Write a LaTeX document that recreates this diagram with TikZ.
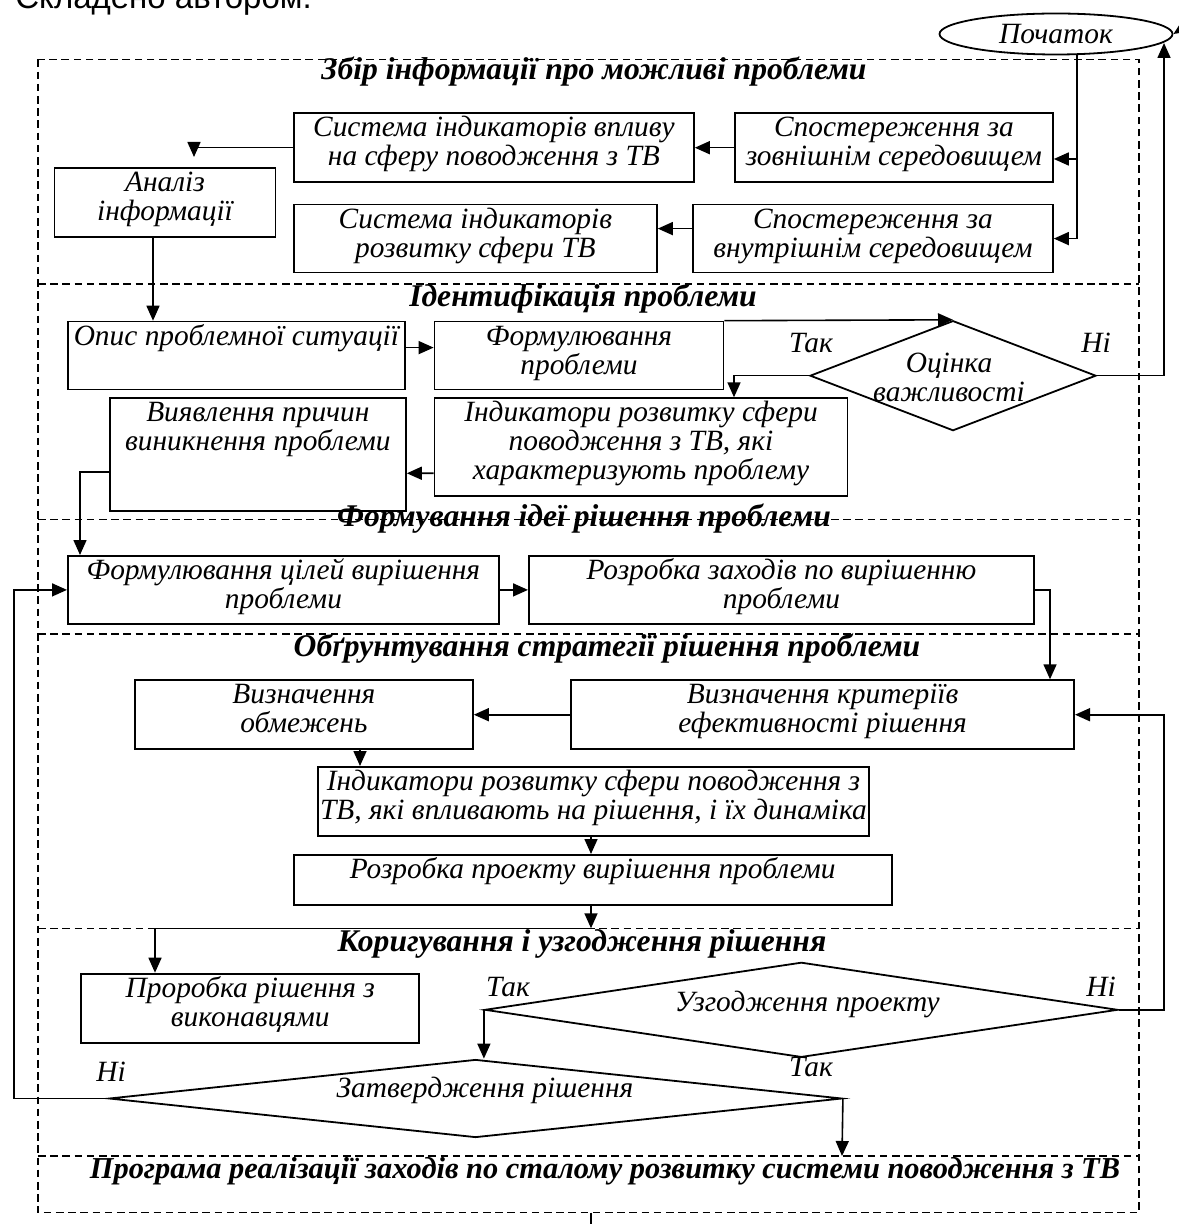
\documentclass[tikz,border=0pt]{standalone}
\usepackage{fontspec}
\setmainfont{Liberation Serif}
\newfontfamily\notefont{Liberation Sans}
\usepackage{tikz}
\usetikzlibrary{shapes.geometric,arrows.meta,calc}

\newlength{\pxu}
\setlength{\pxu}{0.5pt}
\newcommand{\fl}{\rule{0pt}{24\pxu}}

\tikzset{
  box/.style={draw, line width=0.9pt, inner sep=0pt, anchor=north west},
  boxtext/.style={anchor=north, align=center, inner sep=0pt},
  dia/.style={draw, diamond, line width=0.9pt, inner sep=0pt},
  head/.style={anchor=base, inner sep=0pt, font=\fontsize{15.8pt}{16pt}\selectfont\bfseries\itshape},
  yesno/.style={anchor=base, inner sep=0pt},
  sect/.style={dash pattern=on 3.8pt off 2.3pt, line width=0.6pt},
  arr/.style={-{Triangle[length=7.5pt,width=6.5pt]}, line width=0.8pt},
  link/.style={line width=0.8pt}
}

\begin{document}
\begin{tikzpicture}[x=0.5pt, y=-0.5pt, font=\fontsize{14.7pt}{14.5pt}\selectfont\itshape]
\useasboundingbox (0,0) rectangle (1178,1224);

\node[anchor=base west, inner sep=0pt, font=\notefont\fontsize{16.5pt}{18pt}\selectfont] (note) at (15,9) {Складено автором.};

% sections
\draw[sect] (38,59.5) rectangle (1139,1212.7);
\draw[sect] (38,284) -- (1139,284);
\draw[sect] (38,519.3) -- (1139,519.3);
\draw[sect] (38,634) -- (1139,634);
\draw[sect] (38,928.3) -- (1139,928.3);
\draw[sect] (38,1156) -- (1139,1156);

\node[head] (h1) at (594,80) {Збір інформації про можливі проблеми};
\node[head] (h2) at (583,306.7) {Ідентифікація проблеми};
\node[head] (h3) at (584,526.7) {Формування ідеї рішення проблеми};
\node[head] (h4) at (607,656.7) {Обґрунтування стратегії рішення проблеми};
\node[head] (h5) at (582,951.7) {Коригування і узгодження рішення};
\node[head, font=\fontsize{15.2pt}{16pt}\selectfont\bfseries\itshape] (h6) at (605,1178.3) {Програма реалізації заходів по сталому розвитку системи поводження з ТВ};

% section 1
\node[draw, ellipse, line width=0.9pt, inner sep=0pt, minimum width=233\pxu, minimum height=41\pxu] (start) at (1056,34) {Початок};
\node[box, minimum width=400\pxu, minimum height=69\pxu, label={[boxtext]north:{\fl Система індикаторів впливу\\на сферу поводження з ТВ}}] (sysout) at (293,112.3) {};
\node[box, minimum width=318\pxu, minimum height=69\pxu, label={[boxtext]north:{\fl Спостереження за\\зовнішнім середовищем}}] (spout) at (734,112.3) {};
\node[box, minimum width=221\pxu, minimum height=69\pxu, label={[boxtext]north:{\fl Аналіз\\інформації}}] (anal) at (53.6,167.3) {};
\node[box, minimum width=363\pxu, minimum height=68\pxu, label={[boxtext]north:{\fl Система індикаторів\\розвитку сфери ТВ}}] (sysin) at (293,203.7) {};
\node[box, minimum width=360\pxu, minimum height=68\pxu, label={[boxtext]north:{\fl Спостереження за\\внутрішнім середовищем}}] (spin) at (692,203.7) {};

% section 2
\node[box, minimum width=337\pxu, minimum height=68\pxu, label={[boxtext]north:{\fl Опис проблемної ситуації}}] (opys) at (67,320.7) {};
\node[box, minimum width=289\pxu, minimum height=68\pxu, label={[boxtext]north:{\fl Формулювання\\проблеми}}] (form) at (433.6,320.7) {};
\node[dia, minimum width=286\pxu, minimum height=110\pxu, label={[xshift=-4\pxu, yshift=-2\pxu, align=center]center:{Оцінка\\важливості}}] (ocin) at (953,375.7) {};
\node[box, minimum width=296\pxu, minimum height=113\pxu, label={[boxtext]north:{\fl Виявлення причин\\виникнення проблеми}}] (vyav) at (109,397.3) {};
\node[box, minimum width=413\pxu, minimum height=98\pxu, label={[boxtext]north:{\fl Індикатори розвитку сфери\\поводження з ТВ, які\\характеризують проблему}}] (ind1) at (433.6,397.3) {};
\node[yesno] (yes1) at (811,352.7) {Так};
\node[yesno] (no1) at (1096,352.7) {Ні};

% section 3
\node[box, minimum width=431\pxu, minimum height=68\pxu, label={[boxtext]north:{\fl Формулювання цілей вирішення\\проблеми}}] (cil) at (67,555) {};
\node[box, minimum width=505\pxu, minimum height=68\pxu, label={[boxtext]north:{\fl Розробка заходів по вирішенню\\проблеми}}] (rozr) at (528,555) {};

% section 4
\node[box, minimum width=338\pxu, minimum height=69\pxu, label={[boxtext]north:{\fl Визначення\\обмежень}}] (obm) at (134,679.3) {};
\node[box, minimum width=503\pxu, minimum height=69\pxu, label={[boxtext]north:{\fl Визначення критеріїв\\ефективності рішення}}] (kryt) at (570.2,679.3) {};
\node[box, minimum width=551\pxu, minimum height=69\pxu, label={[boxtext]north:{\fl Індикатори розвитку сфери поводження з\\ТВ, які впливають на рішення, і їх динаміка}}] (ind2) at (317,766) {};
\node[box, minimum width=598\pxu, minimum height=50\pxu, label={[boxtext]north:{\fl Розробка проекту вирішення проблеми}}] (proj) at (292.8,854) {};

% section 5
\node[box, minimum width=338\pxu, minimum height=69\pxu, label={[boxtext]north:{\fl Проробка рішення з\\виконавцями}}] (prorob) at (80.4,972.7) {};
\node[dia, minimum width=633\pxu, minimum height=95\pxu, label={[xshift=6\pxu, yshift=5\pxu]center:{Узгодження проекту}}] (uzg) at (801.3,1009.8) {};
\node[dia, minimum width=733\pxu, minimum height=78\pxu, label={[xshift=9.5\pxu, yshift=8\pxu]center:{Затвердження рішення}}] (zatv) at (475.5,1098.5) {};
\node[yesno] (yes2) at (508,996.7) {Так};
\node[yesno] (no2) at (1101,996) {Ні};
\node[yesno] (yes3) at (811,1076) {Так};
\node[yesno] (no3) at (111,1081.7) {Ні};

% connectors
\coordinate (fork) at ($(start.south)+(21,0)$);
\coordinate (analin) at (194,157);
\coordinate (backtop) at (1164,43);
\coordinate (backend) at (1192,22);
\coordinate (split) at (591,928.3);
\coordinate (sec6) at (842,1156);
\coordinate (tail) at (591,1230);

\draw[arr] (fork) |- (spin.east);
\draw[arr] (fork |- 0,159) -- (spout.east |- 0,159);
\draw[arr] (spout.west) -- (sysout.east);
\draw[arr] ($(spin.west)+(0,-10)$) -- ($(sysin.east)+(0,-10)$);
\draw[arr] (sysout.west) -| (analin);
\draw[arr] (153,0 |- anal.south) -- (153,0 |- opys.north);

\draw[arr] ($(opys.east)+(0,-8)$) -- ($(form.west)+(0,-8)$);
\draw[arr] (form.north east) -- (ocin.north);
\draw[arr] (ocin.west) -| (734,0 |- ind1.north);
\draw[arr] (ocin.east) -| (backtop);
\draw[arr] (backend) -- (start.east);
\draw[arr] ($(ind1.west)+(0,26)$) -- ($(vyav.east)+(0,18.6)$);
\draw[arr] ($(vyav.west)+(0,17)$) -| (80,0 |- cil.north);

\draw[arr] (cil.east) -- (rozr.west);
\draw[arr] (rozr.east) -| (1050,0 |- kryt.north);
\draw[arr] (kryt.west) -- (obm.east);
\draw[arr] (360,0 |- obm.south) -- (360,0 |- ind2.north);
\draw[arr] (591,0 |- ind2.south) -- (591,0 |- proj.north);
\draw[arr] (591,0 |- proj.south) -- (split);
\draw[arr] (split) -| (155,0 |- prorob.north);

\draw[arr] (uzg.west) -- (uzg.west |- zatv.north);
\draw[arr] (uzg.east) -- (1164,0 |- uzg.east) |- (kryt.east);
\draw[arr] (zatv.west) -- (14,0 |- zatv.west) |- (cil.west);
\draw[arr] (zatv.east) -- (sec6);
\draw[link] (591,1212.7) -- (tail);
\end{tikzpicture}
\end{document}
